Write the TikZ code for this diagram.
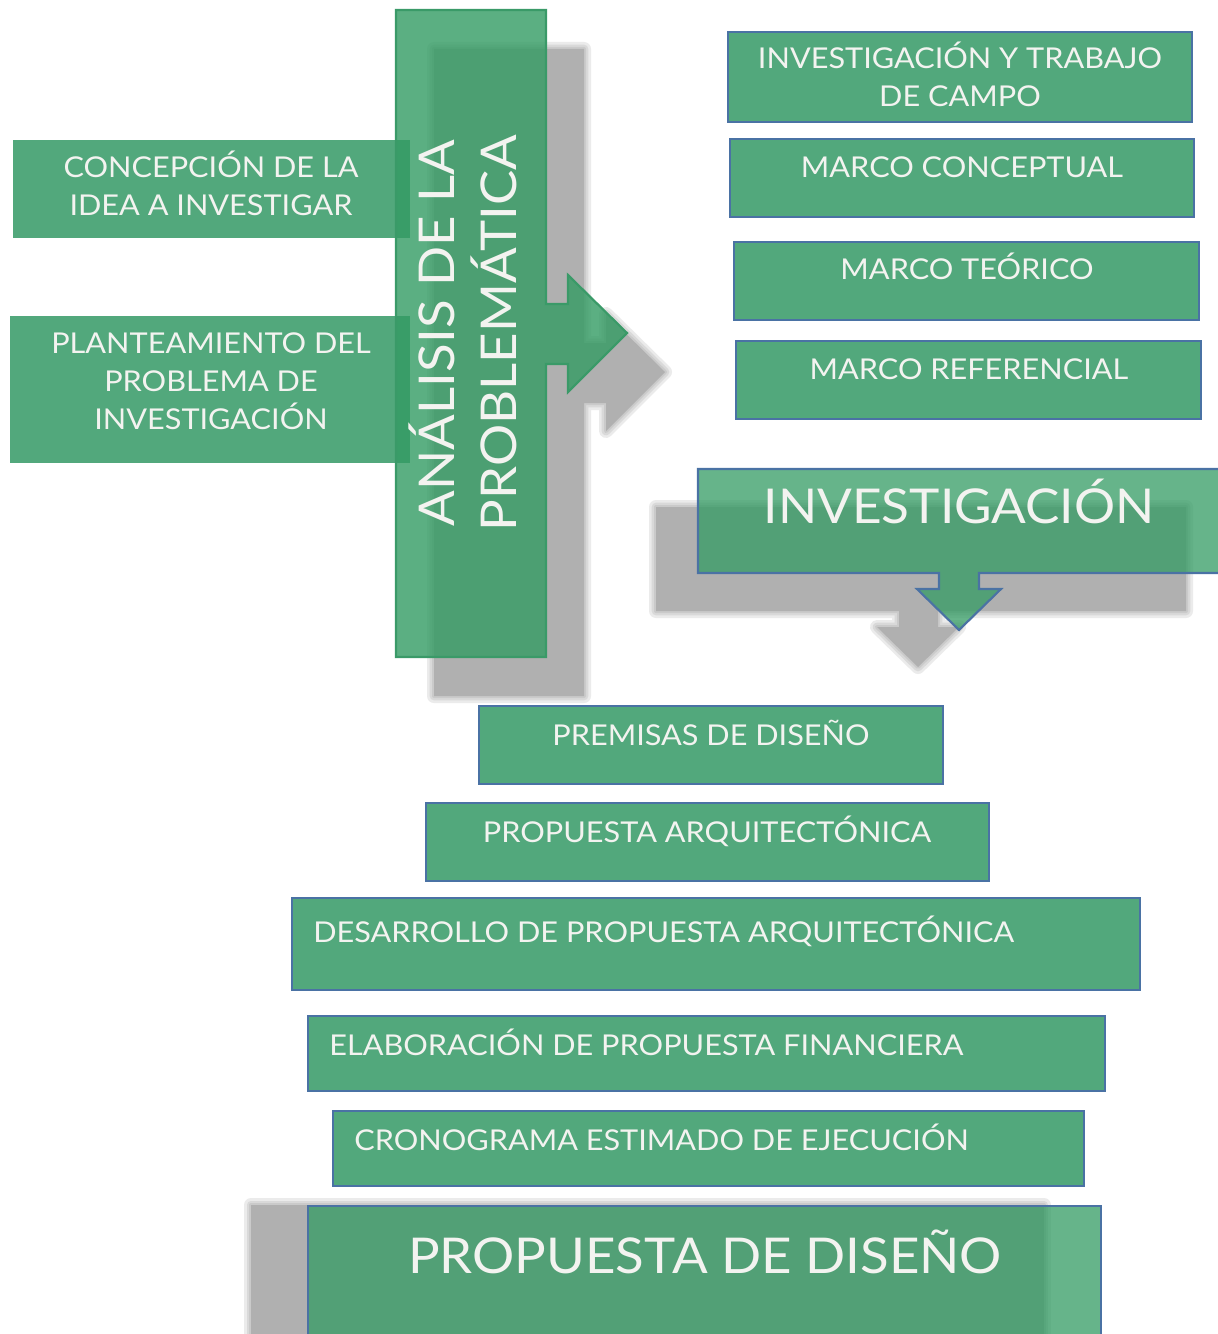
\documentclass[tikz,border=0pt]{standalone}
\usepackage{fontspec}
\setmainfont{Lato}[FakeStretch=1.07]
\definecolor{boxgreen}{RGB}{82,168,124}
\definecolor{tgreen}{RGB}{51,155,99}
\definecolor{vgreen}{RGB}{58,154,104}
\definecolor{bblue}{RGB}{74,114,164}
\definecolor{shgray}{RGB}{176,176,176}
\definecolor{txt}{RGB}{243,243,240}
\tikzset{
  rbox/.style={draw=bblue, line width=1.9pt, fill=boxgreen},
  lbox/.style={fill=boxgreen},
  tbox/.style={draw=bblue, line width=1.6pt, fill=tgreen, fill opacity=0.75},
  vbox/.style={draw=vgreen, line width=1.6pt, fill=tgreen, fill opacity=0.8},
  lbl/.style={text=txt, font=\fontsize{21.5}{28.5}\selectfont, inner sep=0pt, anchor=base},
  big/.style={text=txt, font=\fontsize{36}{46}\selectfont, inner sep=0pt, anchor=base},
  sh1/.style={draw=shgray, line width=10.5pt, opacity=0.25, line join=round},
  sh2/.style={draw=shgray, line width=6.5pt, opacity=0.3, line join=round},
  sh3/.style={draw=shgray, line width=3pt, opacity=0.35, line join=round},
  shf/.style={fill=shgray},
}
\begin{document}
\begin{tikzpicture}[x=0.75pt,y=-0.75pt]
\useasboundingbox (0,0) rectangle (1217,1334);
\fill[white] (0,0) rectangle (1217,1334);

% ---- shadows ----
\foreach \s in {sh1,sh2,sh3,shf}{
  \path[\s] (434,49) -- (584,49) -- (584,343) -- (606,343) -- (606,314) -- (665,372) -- (606,431) -- (606,403) -- (584,403) -- (584,696) -- (434,696) -- cycle;
  \path[\s] (656,507) -- (1186,507) -- (1186,611) -- (938,611) -- (938,627) -- (959,627) -- (918,667) -- (877,627) -- (899,627) -- (899,611) -- (656,611) -- cycle;
  \path[\s] (251,1205) -- (1044,1205) -- (1044,1345) -- (251,1345) -- cycle;
}

% ---- left boxes ----
\path[lbox] (13,140) rectangle (410,238);
\node[lbl] (t1a) at (211,177) {CONCEPCIÓN DE LA};
\node[lbl] (t1b) at (211,215) {IDEA A INVESTIGAR};
\path[lbox] (10,316) rectangle (410,463);
\node[lbl] (t2a) at (211,353) {PLANTEAMIENTO DEL};
\node[lbl] (t2b) at (211,391) {PROBLEMA DE};
\node[lbl] (t2c) at (211,429) {INVESTIGACIÓN};

% ---- vertical callout ----
\path[vbox] (396,10) -- (546,10) -- (546,304) -- (568,304) -- (568,275) -- (627,333) -- (568,392) -- (568,364) -- (546,364) -- (546,657) -- (396,657) -- cycle;
\node[text=txt, rotate=90, align=center, inner sep=0pt, font=\fontsize{37}{46.5}\selectfont] (vt) at (463,333) {ANÁLISIS DE LA\\PROBLEMÁTICA};

% ---- right boxes ----
\path[rbox] (728,32) rectangle (1192,122);
\node[lbl] (r1a) at (960,69) {INVESTIGACIÓN Y TRABAJO};
\node[lbl] (r1b) at (960,107) {DE CAMPO};
\path[rbox] (730,139) rectangle (1194,217);
\node[lbl] (r2) at (962,177) {MARCO CONCEPTUAL};
\path[rbox] (734,242) rectangle (1199,320);
\node[lbl] (r3) at (967,279) {MARCO TEÓRICO};
\path[rbox] (736,341) rectangle (1201,419);
\node[lbl] (r4) at (969,379) {MARCO REFERENCIAL};

% ---- investigación callout ----
\path[tbox] (698,469) -- (1230,469) -- (1230,573) -- (979,573) -- (979,589) -- (1001,589) -- (959,630) -- (917,589) -- (939,589) -- (939,573) -- (698,573) -- cycle;
\node[big] (inv) at (959,523) {INVESTIGACIÓN};

% ---- lower boxes ----
\path[rbox] (479,706) rectangle (943,784);
\node[lbl] (b1) at (711,745) {PREMISAS DE DISEÑO};
\path[rbox] (426,803) rectangle (989,881);
\node[lbl] (b2) at (707,842) {PROPUESTA ARQUITECTÓNICA};
\path[rbox] (292,898) rectangle (1140,990);
\node[lbl, anchor=base west] (b3) at (313,942) {DESARROLLO DE PROPUESTA ARQUITECTÓNICA};
\path[rbox] (308,1016) rectangle (1105,1091);
\node[lbl, anchor=base west] (b4) at (329,1055) {ELABORACIÓN DE PROPUESTA FINANCIERA};
\path[rbox] (333,1111) rectangle (1084,1186);
\node[lbl, anchor=base west] (b5) at (354,1150) {CRONOGRAMA ESTIMADO DE EJECUCIÓN};

% ---- propuesta de diseño ----
\path[tbox] (308,1206) rectangle (1101,1350);
\node[big, font=\fontsize{37}{46}\selectfont] (prop) at (705,1273) {PROPUESTA DE DISEÑO};
\end{tikzpicture}
\end{document}
